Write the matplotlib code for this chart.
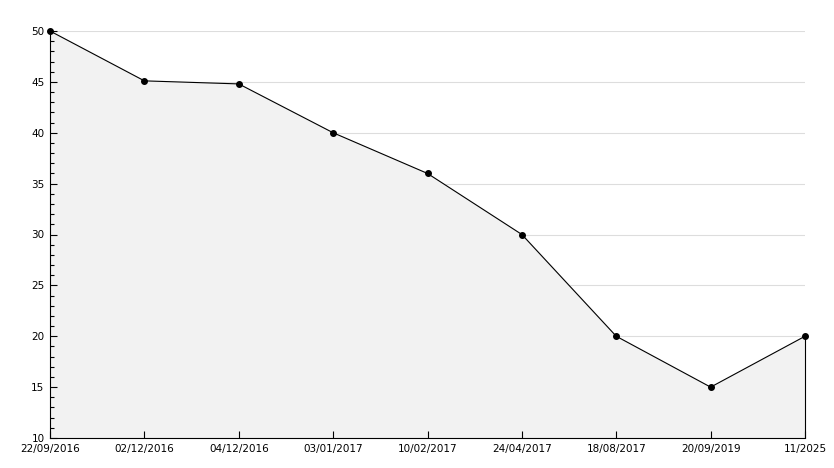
import matplotlib
matplotlib.use("Agg")
import matplotlib.pyplot as plt
from matplotlib.ticker import MultipleLocator

# data
labels = ["22/09/2016", "02/12/2016", "04/12/2016", "03/01/2017", "10/02/2017",
          "24/04/2017", "18/08/2017", "20/09/2019", "11/2025"]
values = [50, 45.1, 44.8, 40, 36, 30, 20, 15, 20]

fig = plt.figure(figsize=(8.34, 4.68), dpi=100)
ax = fig.add_axes([50/834, 30/468, 755/834, 407/468])

x = list(range(len(values)))
# grid lines drawn by hand so the fill can sit on top of them
for g in range(15, 51, 5):
    ax.axhline(g, color="#dddddd", lw=0.8, zorder=1)
ax.fill_between(x, values, 10, color="#f2f2f2", zorder=2)
ax.vlines(x[-1], 10, values[-1], color="black", lw=0.8, zorder=3, clip_on=False)
ax.plot(x, values, color="black", lw=0.8, marker="o", ms=4, zorder=3, clip_on=False)

ax.set_xlim(0, len(values) - 1)
ax.set_ylim(10, 50)
ax.yaxis.set_major_locator(MultipleLocator(5))
ax.yaxis.set_minor_locator(MultipleLocator(1))
ax.set_xticks(x)
ax.set_xticklabels(labels)
ax.set_axisbelow(False)

for s in ["top", "right"]:
    ax.spines[s].set_visible(False)
ax.tick_params(axis="both", direction="in", labelsize=7.5, length=5, width=0.8)
ax.tick_params(axis="y", which="minor", direction="in", length=3, width=0.8)
ax.tick_params(axis="x", pad=4)
ax.tick_params(axis="y", pad=4)

fig.savefig("out.png", dpi=100)
